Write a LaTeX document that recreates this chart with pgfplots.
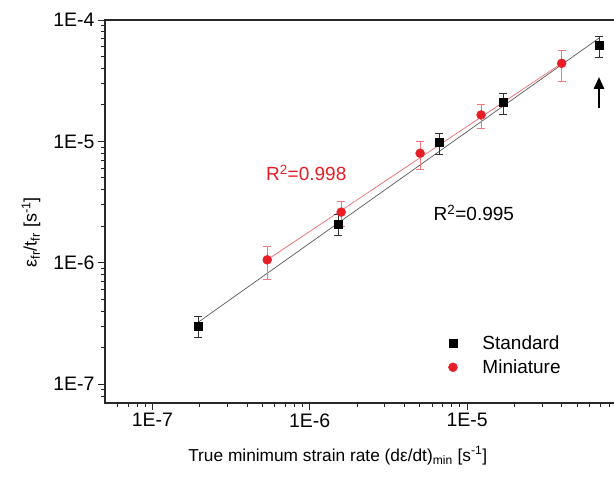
\documentclass[border=0pt]{standalone}
\usepackage{fontspec}
\setmainfont{Liberation Sans}
\usepackage{pgfplots}
\pgfplotsset{compat=1.18}
\usetikzlibrary{arrows.meta}
\definecolor{myred}{RGB}{232,30,38}
\definecolor{pinkred}{RGB}{240,120,125}
\definecolor{axgray}{RGB}{40,40,40}
\begin{document}
\begin{tikzpicture}[x=1pt,y=1pt]
\begin{axis}[
  at={(0,0)}, anchor=south west,
  scale only axis, width=519.5pt, height=383pt,
  xmode=log, ymode=log,
  xmin=5e-8, xmax=1e-4, ymin=7e-8, ymax=1e-4,
  xtick={1e-7,1e-6,1e-5}, xticklabels={1E-7,1E-6,1E-5},
  ytick={1e-7,1e-6,1e-5,1e-4}, yticklabels={1E-7,1E-6,1E-5,1E-4},
  minor xtick={6e-8,7e-8,8e-8,9e-8,2e-7,3e-7,4e-7,5e-7,6e-7,7e-7,8e-7,9e-7,2e-6,3e-6,4e-6,5e-6,6e-6,7e-6,8e-6,9e-6,2e-5,3e-5,4e-5,5e-5,6e-5,7e-5,8e-5,9e-5},
  minor ytick={8e-8,9e-8,2e-7,3e-7,4e-7,5e-7,6e-7,7e-7,8e-7,9e-7,2e-6,3e-6,4e-6,5e-6,6e-6,7e-6,8e-6,9e-6,2e-5,3e-5,4e-5,5e-5,6e-5,7e-5,8e-5,9e-5},
  tick align=outside, xtick pos=left, ytick pos=left,
  major tick length=7pt, minor tick length=4pt,
  every tick/.style={axgray, line width=0.9pt},
  axis line style={axgray, line width=1.2pt},
  tick label style={font=\fontsize{19.5}{19.5}\selectfont},
  xlabel={True minimum strain rate (dε/dt)\textsubscript{min} [s\textsuperscript{-1}]},
  ylabel={ε\textsubscript{fr}/t\textsubscript{fr} [s\textsuperscript{-1}]},
  label style={font=\fontsize{18}{18}\selectfont},
  xlabel style={at={(axis description cs:0.448,-0.152)}, anchor=base, font=\fontsize{17.3}{17.3}\selectfont},
  ylabel style={at={(axis description cs:-0.1424,0.446)}, anchor=center},
  legend style={draw=none, fill=none, font=\fontsize{19}{19}\selectfont,
    at={(axis description cs:0.655,0.125)}, anchor=west, row sep=5pt,
    /tikz/every odd column/.append style={column sep=23pt}},
  legend cell align=left,
]
% fit lines
\addplot[gray!70!black, line width=0.7pt, forget plot] coordinates {(1.95e-7,3.23e-7) (6.87e-5,7.07e-5)};
\addplot[pinkred, line width=0.8pt, forget plot] coordinates {(5.37e-7,1.058e-6) (3.99e-5,4.40e-5)};
% Standard
\addplot[only marks, mark=square*, mark size=4pt, black,
  error bars/.cd, y dir=both, y explicit,
  error bar style={line width=0.6pt, gray!40!black},
  error mark options={rotate=90, mark size=4pt, line width=0.6pt, gray!40!black}]
  table[x=x, y=y, y error=e] {
x y e
1.95e-7 3.03e-7 0.6e-7
1.508e-6 2.095e-6 0.42e-6
6.64e-6 9.77e-6 2.0e-6
1.693e-5 2.086e-5 4.2e-6
6.87e-5 6.17e-5 1.2e-5
};
\addlegendentry{Standard}
% Miniature
\addplot[only marks, mark=*, mark size=4.5pt, myred, mark options={draw=myred, fill=myred},
  error bars/.cd, y dir=both, y explicit,
  error bar style={line width=0.6pt, pinkred},
  error mark options={rotate=90, mark size=4pt, line width=0.6pt, pinkred}]
  table[x=x, y=y, y error=e] {
x y e
5.37e-7 1.058e-6 3.2e-7
1.585e-6 2.615e-6 6.0e-7
5.03e-6 7.99e-6 2.1e-6
1.227e-5 1.652e-5 3.8e-6
3.99e-5 4.40e-5 1.25e-5
};
\addlegendentry{Miniature}
\node[myred, font=\fontsize{19}{19}\selectfont] at (axis cs:9.5e-7,5.53e-6) {R\textsuperscript{2}=0.998};
\node[black, font=\fontsize{19}{19}\selectfont] at (axis cs:1.104e-5,2.58e-6) {R\textsuperscript{2}=0.995};
\draw[black, line width=2.6pt, -{Triangle[length=12pt, width=10pt]}] (axis cs:6.89e-5,1.89e-5) -- (axis cs:6.89e-5,3.40e-5);
\end{axis}
\pgfresetboundingbox
\useasboundingbox (-105,-75) rectangle (509,403);
\end{tikzpicture}
\end{document}
